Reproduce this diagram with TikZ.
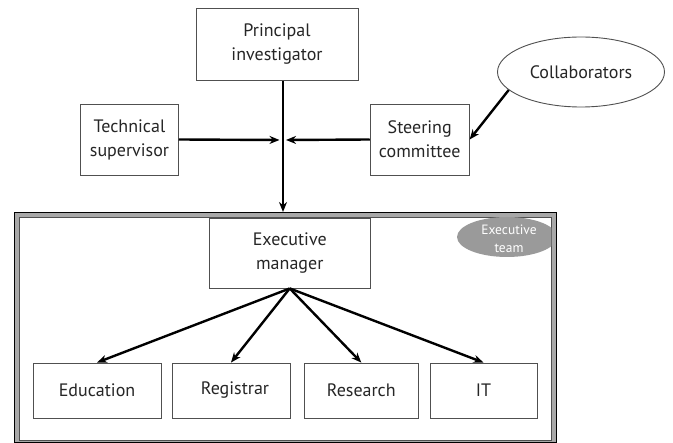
\documentclass[tikz,border=0pt]{standalone}
\usepackage{fontspec}
\setmainfont{PT Sans}
\usetikzlibrary{shapes.geometric,arrows.meta}
\definecolor{txt}{HTML}{262626}
\definecolor{edge}{HTML}{505050}
\definecolor{band}{HTML}{A8A8A8}
\definecolor{teamfill}{HTML}{9A9A9A}
\begin{document}
\begin{tikzpicture}[x=1pt,y=-1pt,
  box/.style={draw=edge,line width=0.9pt,fill=white,inner sep=0pt,align=center,
    text=txt,font=\fontsize{18}{24}\selectfont},
  conn/.style={line width=2.4pt,-{Stealth[length=10pt,width=8pt]}},
  ]
\useasboundingbox (0,0) rectangle (673,443);
% outer executive frame
\node[draw=black,line width=0.8pt,fill=band,minimum width=542pt,minimum height=230pt,inner sep=0pt] (frame) at (285,327) {};
\node[draw=edge,line width=0.8pt,fill=white,minimum width=532pt,minimum height=223pt,inner sep=0pt] (inner) at (285,328.5) {};
\begin{scope}
\clip (inner.north west) rectangle (inner.south east);
\node[ellipse,fill=teamfill,minimum width=100pt,minimum height=40pt,inner sep=0pt] (teamell) at (507,237) {};
\end{scope}
\node[text=white,align=center,font=\fontsize{13.5}{18}\selectfont] (team) at (509,239) {Executive\\team};

\node[box,minimum width=162pt,minimum height=72.5pt] (pi) at (277,44.5) {Principal\\investigator};
\node[box,minimum width=97.6pt,minimum height=71pt] (tech) at (129.5,139.5) {Technical\\supervisor};
\node[box,minimum width=99pt,minimum height=71pt] (steer) at (419.7,139.5) {Steering\\committee};
\node[box,ellipse,minimum width=167pt,minimum height=70pt] (col) at (581,72) {Collaborators};
\node[box,minimum width=161.5pt,minimum height=70pt] (em) at (289.75,253) {Executive\\manager};
\node[box,minimum width=128pt,minimum height=55pt] (edu) at (97,390.5) {Education};
\node[box,minimum width=118pt,minimum height=55pt] (reg) at (231,390.5) {\hspace*{8pt}Registrar};
\node[box,minimum width=114.6pt,minimum height=55pt] (res) at (361.3,390.5) {Research};
\node[box,minimum width=107pt,minimum height=55pt] (it) at (483.5,390.5) {IT};

\coordinate (j) at (283,140);
\coordinate (jl) at (279.5,140);
\coordinate (jr) at (286,140);
\coordinate (ft) at (283,212);
\draw[conn] (pi.south -| j) -- (ft);
\draw[conn] (tech.east) -- (jl);
\draw[conn] (steer.west) -- (jr);
\draw[conn] (col.194) -- (steer.east);
\draw[conn] (em.south) -- (edu.north);
\draw[conn] (em.south) -- (reg.north);
\draw[conn] (em.south) -- (res.north);
\draw[conn] (em.south) -- (it.north);
\end{tikzpicture}
\end{document}
